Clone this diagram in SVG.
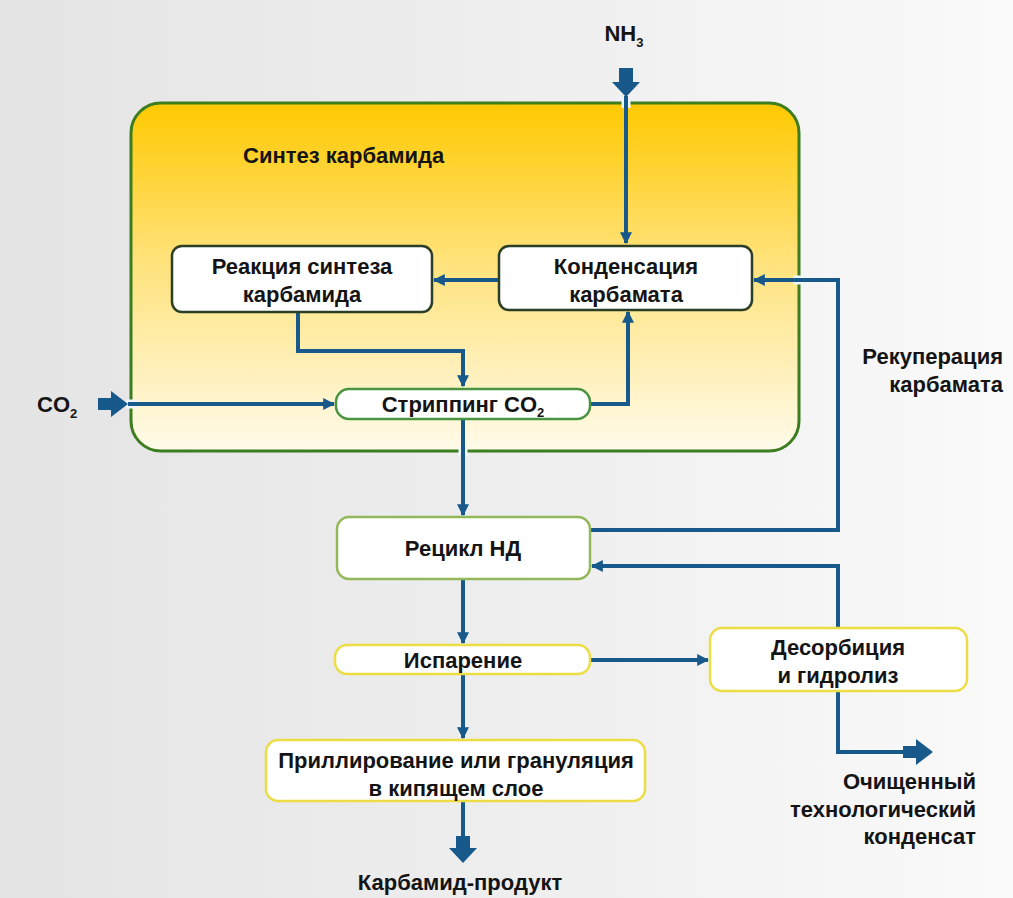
<svg xmlns="http://www.w3.org/2000/svg" width="1013" height="898" viewBox="0 0 1013 898">
<defs>
<linearGradient id="bg" x1="0" y1="0" x2="1" y2="0">
<stop offset="0" stop-color="#e4e4e4"/>
<stop offset="0.6" stop-color="#f0f0f0"/>
<stop offset="1" stop-color="#fafafa"/>
</linearGradient>
<linearGradient id="syn" x1="0" y1="0" x2="0" y2="1">
<stop offset="0" stop-color="#ffc900"/>
<stop offset="0.45" stop-color="#ffe27a"/>
<stop offset="1" stop-color="#fffbea"/>
</linearGradient>
<marker id="ah" viewBox="0 0 10 10" refX="9" refY="5" markerWidth="3" markerHeight="3" orient="auto" markerUnits="strokeWidth">
<path d="M0,0 L10,5 L0,10 z" fill="#17598a"/>
</marker>
<style>
.t{font-family:"Liberation Sans",Arial,sans-serif;font-weight:bold;font-size:22px;fill:#141414}
.c{text-anchor:middle}
.r{text-anchor:end}
.halo{fill:none;stroke:#eef6fa;stroke-width:9}
.ln{fill:none;stroke:#17598a;stroke-width:4}
.box{fill:#ffffff;stroke-width:2.5}
.dk{stroke:#2b3f26}
.gr{stroke:#4a9440}
.lg{stroke:#93b85a}
.ye{stroke:#ecdd45}
.blk{fill:#17598a}
.sub{font-size:13px}
</style>
</defs>
<rect width="1013" height="898" fill="url(#bg)"/>

<g id="synthesis">
<rect x="131" y="103" width="668" height="348" rx="30" fill="url(#syn)" stroke="#3c7d1f" stroke-width="3"/>
<text class="t" x="243" y="163">Синтез карбамида</text>
</g>

<g id="connectors">
<path class="halo" d="M626,99 V108"/>
<path class="halo" d="M126,404 H137"/>
<path class="halo" d="M463,446 V456"/>
<path class="halo" d="M805,280 H793"/>
<path class="ln" d="M626,96 V243" marker-end="url(#ah)"/>
<path class="ln" d="M499,280 H434" marker-end="url(#ah)"/>
<path class="ln" d="M298,312 V351 H463 V386" marker-end="url(#ah)"/>
<path class="ln" d="M128,404 H334" marker-end="url(#ah)"/>
<path class="ln" d="M590,404 H628 V312" marker-end="url(#ah)"/>
<path class="ln" d="M463,418 V515" marker-end="url(#ah)"/>
<path class="ln" d="M590,530 H838 V280 H754" marker-end="url(#ah)"/>
<path class="ln" d="M838,628 V566 H592" marker-end="url(#ah)"/>
<path class="ln" d="M463,579 V643" marker-end="url(#ah)"/>
<path class="ln" d="M590,660 H708" marker-end="url(#ah)"/>
<path class="ln" d="M463,674 V738" marker-end="url(#ah)"/>
<path class="ln" d="M838,691 V752 H905"/>
<path class="ln" d="M463,801 V838"/>
<path class="blk" d="M619,68 H633 V82 H640 L626,97 L612,82 H619 Z"/>
<path class="blk" d="M98,398 H111 V391 L128,404 L111,417 V410 H98 Z"/>
<path class="blk" d="M903,746 H916 V739 L933,752 L916,765 V758 H903 Z"/>
<path class="blk" d="M456,836 H470 V848 H477 L463,863 L449,848 H456 Z"/>
</g>

<g id="reaction">
<rect class="box dk" x="172" y="246" width="260" height="66" rx="10"/>
<text class="t c" x="302" y="274">Реакция синтеза</text>
<text class="t c" x="302" y="302">карбамида</text>
</g>

<g id="condensation">
<rect class="box dk" x="499" y="246" width="253" height="64" rx="10"/>
<text class="t c" x="626" y="274">Конденсация</text>
<text class="t c" x="626" y="302">карбамата</text>
</g>

<g id="stripping">
<rect class="box gr" x="336" y="389" width="254" height="30" rx="13"/>
<text class="t c" x="463" y="412">Стриппинг CO<tspan class="sub" dy="5">2</tspan></text>
</g>

<g id="recycle">
<rect class="box lg" x="337" y="517" width="253" height="62" rx="12"/>
<text class="t c" x="463" y="556">Рецикл НД</text>
</g>

<g id="evaporation">
<rect class="box ye" x="335" y="645" width="255" height="29" rx="12"/>
<text class="t c" x="463" y="668">Испарение</text>
</g>

<g id="desorption">
<rect class="box ye" x="710" y="628" width="257" height="63" rx="12"/>
<text class="t c" x="838" y="655">Десорбиция</text>
<text class="t c" x="838" y="683">и гидролиз</text>
</g>

<g id="prilling">
<rect class="box ye" x="266" y="740" width="379" height="61" rx="12"/>
<text class="t c" x="456" y="768">Приллирование или грануляция</text>
<text class="t c" x="456" y="796">в кипящем слое</text>
</g>

<g id="labels">
<text class="t c" x="624" y="41">NH<tspan class="sub" dy="6">3</tspan></text>
<text class="t" x="37" y="412">CO<tspan class="sub" dy="6">2</tspan></text>
<text class="t r" x="1003" y="364">Рекуперация</text>
<text class="t r" x="1003" y="392">карбамата</text>
<text class="t r" x="976" y="789">Очищенный</text>
<text class="t r" x="976" y="817">технологический</text>
<text class="t r" x="976" y="844">конденсат</text>
<text class="t c" x="460" y="890">Карбамид-продукт</text>
</g>
</svg>
